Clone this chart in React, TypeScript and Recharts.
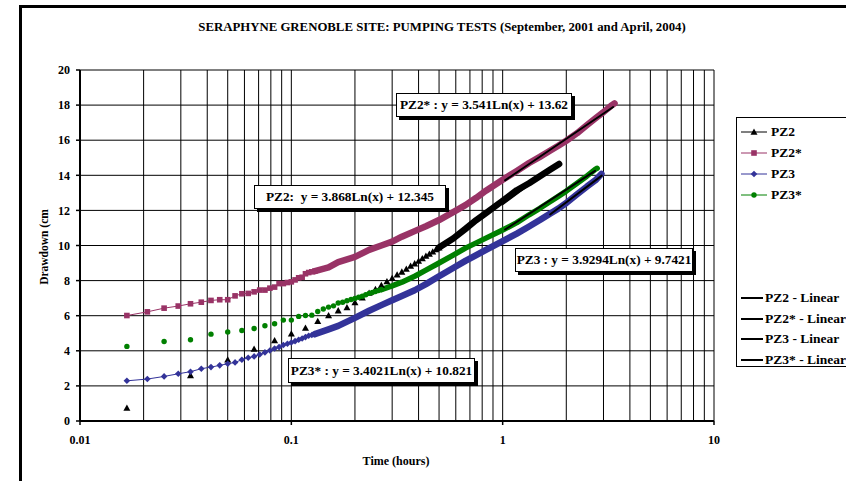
import React from "react";
import { LineChart, Line, XAxis, YAxis, CartesianGrid } from "recharts";

// [time in minutes, drawdown in cm]
type Pt = [number, number];

// PZ2 - triangles, one reading per minute
const pz2: Pt[] = [
  [1, 0.74], [2, 2.6], [3, 3.49], [4, 4.1], [5, 4.59], [6, 4.97], [7, 5.3],
  [8, 5.68], [9, 6.01], [10, 6.29], [11, 6.47], [12, 6.75], [13, 7.03],
  [14, 7.29], [15, 7.51], [16, 7.74], [17, 7.95], [18, 8.14], [19, 8.33],
  [20, 8.5], [21, 8.66], [22, 8.83], [23, 8.97], [24, 9.12], [25, 9.26],
  [26, 9.4], [27, 9.52], [28, 9.65], [29, 9.77], [30, 9.88],
];
const pz2Band: Pt[] = [
  [30, 9.88], [35, 10.4], [40, 10.95], [45, 11.45], [50, 11.85], [60, 12.55],
  [70, 13.15], [80, 13.55], [90, 13.95], [100, 14.3], [111, 14.65],
];

// PZ2* - squares, every 15 s at the start
const pz2s: Pt[] = [
  [1, 6.01], [1.25, 6.22], [1.5, 6.43], [1.75, 6.55], [2, 6.68], [2.25, 6.77],
  [2.5, 6.87], [2.75, 6.91], [3, 6.91], [3.25, 7.13], [3.5, 7.25], [3.75, 7.27],
  [4, 7.36], [4.25, 7.46], [4.5, 7.46], [4.75, 7.57], [5, 7.63], [5.25, 7.83],
  [5.5, 7.83], [5.75, 7.89], [6, 7.93], [6.25, 8.04], [6.5, 8.16], [6.75, 8.19],
  [7, 8.39], [7.25, 8.46], [7.5, 8.5], [7.75, 8.54],
];
const pz2sBand: Pt[] = [
  [7.75, 8.54], [9, 8.75], [10, 9.05], [12, 9.35], [14, 9.75], [16, 10.0],
  [18, 10.22], [20, 10.5], [23, 10.82], [26, 11.1], [30, 11.45], [35, 11.9],
  [40, 12.3], [45, 12.72], [50, 13.12], [60, 13.75], [70, 14.25], [80, 14.7],
  [90, 15.05], [100, 15.38], [110, 15.68], [120, 15.97], [135, 16.4],
  [150, 16.85], [165, 17.25], [180, 17.6], [195, 17.95], [203, 18.1],
];

// PZ3 - diamonds, every 15 s at the start
const pz3: Pt[] = [
  [1, 2.29], [1.25, 2.39], [1.5, 2.54], [1.75, 2.69], [2, 2.81], [2.25, 2.98],
  [2.5, 3.07], [2.75, 3.17], [3, 3.26], [3.25, 3.34], [3.5, 3.49], [3.75, 3.6],
  [4, 3.68], [4.25, 3.79], [4.5, 3.91], [4.75, 4.02], [5, 4.13], [5.25, 4.21],
  [5.5, 4.33], [5.75, 4.4], [6, 4.47], [6.25, 4.55], [6.5, 4.63], [6.75, 4.7],
  [7, 4.78], [7.25, 4.86], [7.5, 4.9], [7.75, 4.95],
];
const pz3Band: Pt[] = [
  [7.75, 4.95], [9, 5.22], [10, 5.42], [12, 5.88], [14, 6.28], [16, 6.6],
  [18, 6.88], [20, 7.12], [23, 7.45], [26, 7.8], [30, 8.25], [35, 8.72],
  [40, 9.12], [45, 9.45], [50, 9.75], [60, 10.25], [70, 10.68], [80, 11.08],
  [90, 11.45], [100, 11.8], [110, 12.1], [120, 12.42], [135, 12.92],
  [150, 13.35], [165, 13.72], [176, 14.08],
];

// PZ3* - dots, every 30 s at the start
const pz3s: Pt[] = [
  [1, 4.25], [1.5, 4.53], [2, 4.63], [2.5, 4.95], [3, 5.07], [3.5, 5.16],
  [4, 5.27], [4.5, 5.43], [5, 5.54], [5.5, 5.75], [6, 5.75], [6.5, 5.96],
  [7, 6.01], [7.5, 6.03], [8, 6.24], [8.5, 6.38], [9, 6.49], [9.5, 6.56],
  [10, 6.72], [10.5, 6.77], [11, 6.85], [11.5, 6.92], [12, 6.98], [12.5, 7.05],
  [13, 7.11], [13.5, 7.19], [14, 7.27], [14.5, 7.32], [15, 7.38], [15.5, 7.44],
  [16, 7.49],
];
const pz3sBand: Pt[] = [
  [16, 7.49], [18, 7.7], [20, 7.91], [23, 8.25], [26, 8.6], [30, 9.0],
  [35, 9.45], [40, 9.85], [45, 10.15], [50, 10.42], [60, 10.88], [70, 11.3],
  [80, 11.75], [90, 12.12], [100, 12.48], [110, 12.8], [120, 13.1], [135, 13.55],
  [150, 13.95], [165, 14.35], [168, 14.4],
];

// logarithmic trend lines (end points of the fitted range)
const pz2Linear: Pt[] = [[60, 12.35], [111, 14.73]];
const pz2sLinear: Pt[] = [[61.6, 13.71], [200, 17.89]];
const pz3Linear: Pt[] = [[100.6, 11.77], [176.6, 13.98]];
const pz3sLinear: Pt[] = [[61.6, 10.91], [164.2, 14.25]];

const xTicks = [
  0.01, 0.02, 0.03, 0.04, 0.05, 0.06, 0.07, 0.08, 0.09,
  0.1, 0.2, 0.3, 0.4, 0.5, 0.6, 0.7, 0.8, 0.9,
  1, 2, 3, 4, 5, 6, 7, 8, 9, 10,
];
const xLabels = [0.01, 0.1, 1, 10];
const yTicks = [0, 2, 4, 6, 8, 10, 12, 14, 16, 18, 20];

const FONT = '"Liberation Serif", "Times New Roman", serif';
const C_PZ2 = "#000000";
const C_PZ2S = "#993366";
const C_PZ3 = "#333399";
const C_PZ3S = "#008000";

const toRows = (pts: Pt[]) => pts.map(([m, v]) => ({ t: m / 60, v }));

type Kind = "tri" | "square" | "diamond" | "circle";

const shape = (kind: Kind, cx: number, cy: number, color: string, key?: any) => {
  if (kind === "tri")
    return <path key={key} d={`M${cx},${cy - 3.5}L${cx + 3.5},${cy + 2.8}L${cx - 3.5},${cy + 2.8}Z`} fill={color} />;
  if (kind === "square")
    return <rect key={key} x={cx - 2.8} y={cy - 2.8} width={5.6} height={5.6} fill={color} />;
  if (kind === "diamond")
    return <path key={key} d={`M${cx},${cy - 3.3}L${cx + 3.3},${cy}L${cx},${cy + 3.3}L${cx - 3.3},${cy}Z`} fill={color} />;
  return <circle key={key} cx={cx} cy={cy} r={2.7} fill={color} />;
};

const marker = (kind: Kind, color: string) => (p: any) => {
  if (p.cx == null || p.cy == null) return <g key={p.index} />;
  return shape(kind, p.cx, p.cy, color, p.index);
};

const XTick = (props: any) => {
  const { x, y, payload } = props;
  if (!xLabels.includes(payload.value)) return <g />;
  return (
    <g>
      <line x1={x} x2={x} y1={y - 16} y2={y - 12} stroke="#000" strokeWidth={1.5} />
      <text x={x} y={y + 7} textAnchor="middle" fontFamily={FONT} fontWeight="bold" fontSize={12} fill="#000">
        {payload.value}
      </text>
    </g>
  );
};

const boxStyle: React.CSSProperties = {
  position: "absolute",
  background: "#fff",
  border: "1px solid #000",
  boxShadow: "3px 3px 0 #000",
  fontFamily: FONT,
  fontWeight: "bold",
  fontSize: 13.3,
  display: "flex",
  alignItems: "center",
  justifyContent: "center",
  whiteSpace: "pre",
  boxSizing: "border-box",
};

const legendTop = [
  { name: "PZ2", color: C_PZ2, kind: "tri" as Kind },
  { name: "PZ2*", color: C_PZ2S, kind: "square" as Kind },
  { name: "PZ3", color: C_PZ3, kind: "diamond" as Kind },
  { name: "PZ3*", color: C_PZ3S, kind: "circle" as Kind },
];
const legendLinear = ["PZ2 - Linear", "PZ2* - Linear", "PZ3 - Linear", "PZ3* - Linear"];

const App = () => {
  const line = (pts: Pt[], color: string, width: number, dot: any = false, key?: string) => (
    <Line
      key={key}
      data={toRows(pts)}
      dataKey="v"
      stroke={color}
      strokeWidth={width}
      strokeLinecap="round"
      strokeLinejoin="round"
      dot={dot}
      activeDot={false}
      isAnimationActive={false}
      type="linear"
    />
  );

  return (
    <div style={{ position: "absolute", left: 0, top: 0, width: 846, height: 481, overflow: "hidden", background: "#fff" }}>
      <div style={{ position: "absolute", left: 19, top: 5, width: 1000, height: 1000, border: "3px solid #000" }} />
      <div
        style={{
          position: "absolute", left: 442, top: 27, transform: "translate(-50%, -50%)", whiteSpace: "nowrap",
          fontFamily: FONT, fontWeight: "bold", fontSize: 12.8,
        }}
      >
        SERAPHYNE GRENOBLE SITE: PUMPING TESTS (September, 2001 and April, 2004)
      </div>

      <div style={{ position: "absolute", left: 0, top: 0 }}>
        <LineChart width={846} height={481} margin={{ top: 70, right: 132, left: 0, bottom: 0 }}>
          <CartesianGrid stroke="#000" strokeWidth={1} vertical horizontal />
          <XAxis
            dataKey="t"
            type="number"
            scale="log"
            domain={[0.01, 10]}
            ticks={xTicks}
            allowDataOverflow
            height={60}
            tickLine={false}
            tickSize={4}
            tickMargin={12}
            tick={<XTick />}
            axisLine={{ stroke: "#000", strokeWidth: 2 }}
            interval={0}
          />
          <YAxis
            type="number"
            domain={[0, 20]}
            ticks={yTicks}
            width={80}
            interval={0}
            tickSize={4}
            tickMargin={6}
            tickLine={{ stroke: "#000", strokeWidth: 1.5 }}
            axisLine={{ stroke: "#000", strokeWidth: 2 }}
            tick={{ fontFamily: FONT, fontWeight: "bold", fontSize: 12, fill: "#000" }}
          />
          {line(pz2, "none", 0, marker("tri", C_PZ2), "pz2")}
          {line(pz2Band, C_PZ2, 6.5, false, "pz2b")}
          {line(pz2s, C_PZ2S, 1, marker("square", C_PZ2S), "pz2s")}
          {line(pz2sBand, C_PZ2S, 6.5, false, "pz2sb")}
          {line(pz3, C_PZ3, 1, marker("diamond", C_PZ3), "pz3")}
          {line(pz3Band, C_PZ3, 6.5, false, "pz3b")}
          {line(pz3s, "none", 0, marker("circle", C_PZ3S), "pz3s")}
          {line(pz3sBand, C_PZ3S, 5.5, false, "pz3sb")}
          {line(pz2Linear, "#000", 2, false, "l1")}
          {line(pz2sLinear, "#000", 2, false, "l2")}
          {line(pz3Linear, "#000", 2, false, "l3")}
          {line(pz3sLinear, "#000", 2, false, "l4")}
        </LineChart>
      </div>

      <div
        style={{
          position: "absolute", left: 44, top: 247, transform: "translate(-50%, -50%) rotate(-90deg)",
          whiteSpace: "nowrap", fontFamily: FONT, fontWeight: "bold", fontSize: 11.5,
        }}
      >
        Drawdown (cm
      </div>
      <div
        style={{
          position: "absolute", left: 396, top: 461, transform: "translate(-50%, -50%)",
          whiteSpace: "nowrap", fontFamily: FONT, fontWeight: "bold", fontSize: 12,
        }}
      >
        Time (hours)
      </div>

      <div style={{ ...boxStyle, left: 396, top: 93, width: 176, height: 24 }}>PZ2* : y = 3.541Ln(x) + 13.62</div>
      <div style={{ ...boxStyle, left: 254, top: 185, width: 192, height: 24 }}>PZ2:  y = 3.868Ln(x) + 12.345</div>
      <div style={{ ...boxStyle, left: 515, top: 248, width: 178, height: 24 }}>PZ3 : y = 3.9294Ln(x) + 9.7421</div>
      <div style={{ ...boxStyle, left: 288, top: 358, width: 187, height: 25 }}>PZ3* : y = 3.4021Ln(x) + 10.821</div>

      <div
        style={{
          position: "absolute", left: 736, top: 117, width: 200, height: 250, border: "1px solid #000",
          background: "#fff", boxSizing: "border-box", fontFamily: FONT, fontWeight: "bold", fontSize: 13.5,
        }}
      >
        {legendTop.map((e, i) => (
          <div key={e.name} style={{ position: "absolute", left: 3, top: 14 + i * 21 - 8, height: 16, display: "flex", alignItems: "center" }}>
            <svg width={28} height={16}>
              <line x1={1} x2={27} y1={8} y2={8} stroke={e.color} strokeWidth={1} />
              {shape(e.kind, 14, 8, e.color)}
            </svg>
            <span style={{ marginLeft: 3 }}>{e.name}</span>
          </div>
        ))}
        {legendLinear.map((name, i) => (
          <div key={name} style={{ position: "absolute", left: 3, top: 180 + i * 20.7 - 8, height: 16, display: "flex", alignItems: "center" }}>
            <svg width={23} height={16}>
              <line x1={1} x2={23} y1={8} y2={8} stroke="#000" strokeWidth={2} />
            </svg>
            <span style={{ marginLeft: 2, whiteSpace: "nowrap" }}>{name}</span>
          </div>
        ))}
      </div>
    </div>
  );
};

export default App;
